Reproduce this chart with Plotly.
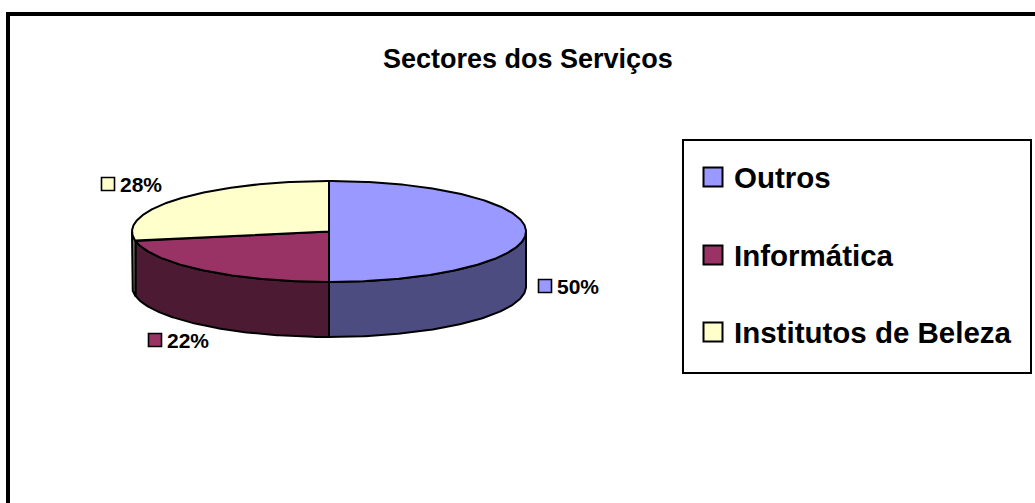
import numpy as np
import plotly.graph_objects as go

# ---- data ----
categories = ["Outros", "Informática", "Institutos de Beleza"]
values = [50, 22, 28]
pct_labels = ["50%", "22%", "28%"]
title_text = "Sectores dos Serviços"

# ---- styles ----
top_colors = ["#9999FF", "#993366", "#FFFFCC"]
side_colors = ["#4C4C80", "#4C1A33", "#80806A"]
FONT = "Liberation Sans, Arial, sans-serif"
W, H = 1035, 503

# pie geometry (page pixels)
cx, cy, rx, ry, depth = 329.0, 231.5, 197.0, 50.5, 55.0
# label anchor positions (pixels): key square centre
label_pos = [(545, 286), (155, 340), (108, 184)]
# legend layout
leg_x0, leg_y0, leg_x1, leg_y1 = 683, 140, 1031, 373
leg_rows = [177, 255, 332]

fig = go.Figure()


def ex(t):
    return cx + rx * np.sin(np.radians(t))


def ey(t):
    return cy - ry * np.cos(np.radians(t))


total = float(sum(values))
starts, ends = [], []
acc = 0.0
for v in values:
    starts.append(acc / total * 360.0)
    acc += v
    ends.append(acc / total * 360.0)

# side walls (visible front half: 90..270 degrees)
for i in range(len(values)):
    a = max(starts[i], 90.0)
    b = min(ends[i], 270.0)
    if b <= a:
        continue
    t = np.linspace(a, b, 120)
    xs = np.concatenate([ex(t), ex(t[::-1]), [ex(a)]])
    ys = np.concatenate([ey(t), ey(t[::-1]) + depth, [ey(a)]])
    fig.add_trace(go.Scatter(x=xs, y=ys, mode="lines", fill="toself",
                             fillcolor=side_colors[i],
                             line=dict(color="black", width=2),
                             hoverinfo="skip", showlegend=False))

# top faces
for i in range(len(values)):
    t = np.linspace(starts[i], ends[i], 200)
    xs = np.concatenate([[cx], ex(t), [cx]])
    ys = np.concatenate([[cy], ey(t), [cy]])
    fig.add_trace(go.Scatter(x=xs, y=ys, mode="lines", fill="toself",
                             fillcolor=top_colors[i],
                             line=dict(color="black", width=2),
                             name=categories[i],
                             hoverinfo="skip", showlegend=False))

# data labels with key squares
fig.add_trace(go.Scatter(
    x=[p[0] for p in label_pos], y=[p[1] for p in label_pos],
    mode="markers",
    marker=dict(symbol="square", size=13, color=top_colors,
                line=dict(color="black", width=1.6)),
    hoverinfo="skip", showlegend=False))
for i, p in enumerate(label_pos):
    fig.add_annotation(x=p[0] + 10, y=p[1], text="<b>%s</b>" % pct_labels[i],
                       showarrow=False, xanchor="left", yanchor="middle",
                       font=dict(family=FONT, size=21, color="black"))

# legend (drawn)
fig.add_shape(type="rect", x0=leg_x0, y0=leg_y0, x1=leg_x1, y1=leg_y1,
              line=dict(color="black", width=2), fillcolor="white", layer="below")
fig.add_trace(go.Scatter(
    x=[713] * len(categories), y=leg_rows, mode="markers",
    marker=dict(symbol="square", size=19, color=top_colors,
                line=dict(color="black", width=2)),
    hoverinfo="skip", showlegend=False))
for i, c in enumerate(categories):
    fig.add_annotation(x=732, y=leg_rows[i], text="<b>%s</b>" % c,
                       showarrow=False, xanchor="left", yanchor="middle",
                       font=dict(family=FONT, size=29.5, color="black"))

# title
fig.add_annotation(x=528, y=59, text="<b>%s</b>" % title_text, showarrow=False,
                   xanchor="center", yanchor="middle",
                   font=dict(family=FONT, size=27, color="black"))

# chart frame (continues past right/bottom edges)
fig.add_shape(type="rect", x0=8, y0=14, x1=1200, y1=800,
              line=dict(color="black", width=4), layer="above")

fig.update_layout(
    width=W, height=H, autosize=False,
    margin=dict(l=0, r=0, t=0, b=0),
    paper_bgcolor="white", plot_bgcolor="white",
    xaxis=dict(range=[0, W], visible=False, fixedrange=True),
    yaxis=dict(range=[H, 0], visible=False, fixedrange=True),
    showlegend=False,
)

fig.write_html(
    "out.html",
    config={"displayModeBar": False},
    post_script="document.body.style.margin='0';document.body.style.overflow='hidden';",
)
